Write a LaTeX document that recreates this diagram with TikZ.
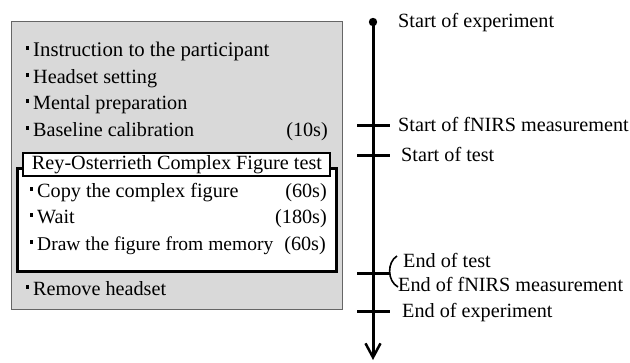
\documentclass[tikz,border=0pt]{standalone}
\usepackage{fontspec}
\setmainfont{Liberation Serif}
\usetikzlibrary{arrows.meta}
\newcommand\sqbul{\rule[6.5pt]{3pt}{3.5pt}\hspace{4pt}}
\newcommand\labfont{\fontsize{20.2}{23}\selectfont}
\begin{document}
\begin{tikzpicture}[x=1pt,y=-1pt,
  txt/.style={anchor=base west,inner sep=0pt,font=\labfont},
  dur/.style={anchor=base east,inner sep=0pt,font=\labfont},
  ticked/.style={line width=3pt},
  panel/.style={draw=black!60,line width=0.8pt,fill=black!15},
  testbox/.style={draw=black,line width=3pt,fill=white},
  titlebox/.style={draw=black,line width=1.5pt,fill=white},
]
\useasboundingbox (0,0) rectangle (630,362);

% preparation panel
\draw[panel] (11,21) rectangle (342,309);
\draw[testbox] (17,168) rectangle (336,271);
\draw[titlebox] (23,153) rectangle (330,176);

% steps before the test
\node[txt,font=\fontsize{20.8}{23}\selectfont] (s1) at (26,56) {\sqbul Instruction to the participant};
\node[txt] (s2) at (26,83) {\sqbul Headset setting};
\node[txt] (s3) at (26,109) {\sqbul Mental preparation};
\node[txt] (s4) at (26,136) {\sqbul Baseline calibration};
\node[dur] (d4) at (328,136) {(10s)};

% test block
\node[inner sep=0pt,font=\labfont] (title) at (177,164.5) {Rey-Osterrieth Complex Figure test};
\node[txt] (t1) at (30,197) {\sqbul Copy the complex figure};
\node[dur] (dt1) at (327,197) {(60s)};
\node[txt] (t2) at (30,223) {\sqbul Wait};
\node[dur] (dt2) at (327,223) {(180s)};
\node[txt,font=\fontsize{19.5}{23}\selectfont] (t3) at (30,250) {\sqbul Draw the figure from memory};
\node[dur] (dt3) at (326,250) {(60s)};

\node[txt] (s5) at (26,295) {\sqbul Remove headset};

% time axis
\coordinate (tstart) at (373,22);
\coordinate (tend) at (373,360);
\draw[line width=3pt,-{Straight Barb[length=14pt,width=15pt,line width=2.5pt]}] (tstart) -- (tend);
\fill (tstart) circle (4.2pt);

\coordinate (a1) at (357,125); \coordinate (b1) at (390,125);
\coordinate (a2) at (357,155); \coordinate (b2) at (390,155);
\coordinate (a3) at (357,273); \coordinate (b3) at (389,273);
\coordinate (a4) at (357,311); \coordinate (b4) at (390,311);
\draw[ticked] (a1) -- (b1);
\draw[ticked] (a2) -- (b2);
\draw[ticked] (a3) -- (b3);
\draw[ticked] (a4) -- (b4);

% bracket joining the two end events
\coordinate (brt) at (397,256);
\coordinate (brb) at (398,287);
\draw[line width=1.6pt] (brt) .. controls (387,262) and (387,281) .. (brb);

\node[txt] (e1) at (398,27) {Start of experiment};
\node[txt] (e2) at (398,131) {Start of fNIRS measurement};
\node[txt] (e3) at (401,161) {Start of test};
\node[txt] (e4) at (403,267) {End of test};
\node[txt] (e5) at (398,291) {End of fNIRS measurement};
\node[txt] (e6) at (402,317) {End of experiment};
\end{tikzpicture}
\end{document}
